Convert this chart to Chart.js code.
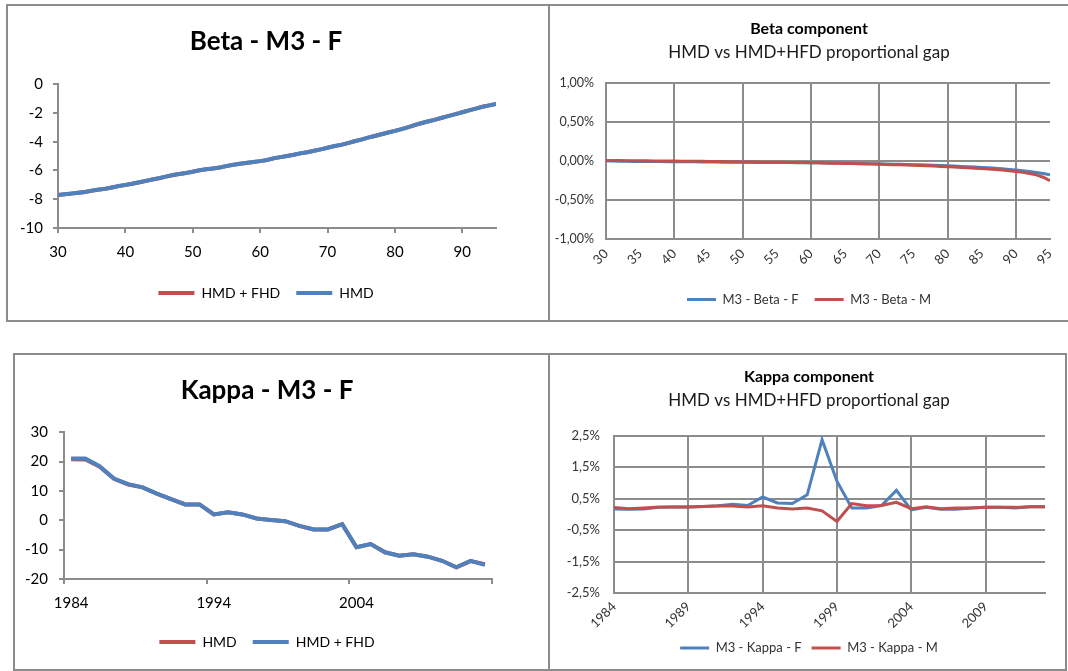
<!DOCTYPE html>
<html>
<head>
<meta charset="utf-8">
<script src="https://cdn.jsdelivr.net/npm/chart.js@4.4.0/dist/chart.umd.min.js"></script>
<style>
  body { margin: 0; background: #fff; width: 1068px; height: 671px; overflow: hidden; position: relative; }
  .panel { position: absolute; box-sizing: border-box; border: 2px solid #8c8c8c; background: #fff; }
  .panel canvas { display: block; }
  #p1 { left: 6px; top: 4px; width: 544px; height: 318px; }
  #p2 { left: 548px; top: 4px; width: 522px; height: 318px; }
  #p3 { left: 13px; top: 353px; width: 537px; height: 318px; }
  #p4 { left: 548px; top: 353px; width: 519px; height: 318px; }
</style>
</head>
<body>
<div class="panel" id="p1"><canvas id="c1" width="540" height="314"></canvas></div>
<div class="panel" id="p2"><canvas id="c2" width="518" height="314"></canvas></div>
<div class="panel" id="p3"><canvas id="c3" width="533" height="314"></canvas></div>
<div class="panel" id="p4"><canvas id="c4" width="515" height="314"></canvas></div>
<script>
// ages 30..95
const betaAges = [30,31,32,33,34,35,36,37,38,39,40,41,42,43,44,45,46,47,48,49,
  50,51,52,53,54,55,56,57,58,59,60,61,62,63,64,65,66,67,68,69,
  70,71,72,73,74,75,76,77,78,79,80,81,82,83,84,85,86,87,88,89,
  90,91,92,93,94,95];

// Beta - M3 - F
const betaHmd = [-7.70,-7.65,-7.60,-7.55,-7.50,-7.40,-7.33,-7.28,-7.18,-7.08,
  -7.00,-6.92,-6.82,-6.72,-6.63,-6.53,-6.43,-6.32,-6.24,-6.18,
  -6.08,-5.98,-5.92,-5.86,-5.79,-5.69,-5.60,-5.53,-5.47,-5.41,
  -5.35,-5.27,-5.15,-5.07,-4.99,-4.90,-4.80,-4.73,-4.63,-4.53,
  -4.42,-4.30,-4.22,-4.10,-3.97,-3.85,-3.72,-3.60,-3.48,-3.36,
  -3.25,-3.12,-2.98,-2.83,-2.70,-2.58,-2.46,-2.33,-2.20,-2.08,
  -1.95,-1.82,-1.70,-1.57,-1.47,-1.38];
const betaHmdFhd = [-7.71,-7.66,-7.61,-7.55,-7.49,-7.41,-7.34,-7.27,-7.18,-7.09,
  -7.01,-6.92,-6.83,-6.73,-6.63,-6.54,-6.43,-6.33,-6.25,-6.18,
  -6.09,-5.99,-5.92,-5.86,-5.80,-5.70,-5.61,-5.53,-5.48,-5.41,
  -5.35,-5.28,-5.16,-5.07,-4.99,-4.90,-4.81,-4.73,-4.63,-4.53,
  -4.42,-4.31,-4.22,-4.10,-3.97,-3.85,-3.72,-3.60,-3.48,-3.36,
  -3.25,-3.12,-2.98,-2.84,-2.70,-2.58,-2.46,-2.33,-2.20,-2.08,
  -1.95,-1.82,-1.70,-1.57,-1.47,-1.38];

// Beta component gap, in %
const betaGapF = [0.000,-0.003,-0.005,-0.007,-0.008,-0.008,-0.009,-0.010,-0.010,-0.011,
  -0.012,-0.012,-0.013,-0.013,-0.014,-0.015,-0.016,-0.017,-0.018,-0.019,
  -0.020,-0.020,-0.021,-0.021,-0.022,-0.022,-0.023,-0.023,-0.024,-0.024,
  -0.025,-0.026,-0.027,-0.028,-0.029,-0.030,-0.031,-0.033,-0.035,-0.037,
  -0.039,-0.041,-0.043,-0.045,-0.047,-0.049,-0.052,-0.055,-0.058,-0.061,
  -0.064,-0.068,-0.072,-0.076,-0.080,-0.085,-0.090,-0.096,-0.103,-0.110,
  -0.118,-0.127,-0.137,-0.149,-0.163,-0.180];
const betaGapM = [0.002,0.003,0.003,0.002,0.002,0.001,0.000,-0.001,-0.002,-0.003,
  -0.004,-0.005,-0.006,-0.006,-0.007,-0.008,-0.009,-0.010,-0.012,-0.013,
  -0.014,-0.015,-0.016,-0.017,-0.018,-0.019,-0.020,-0.021,-0.022,-0.023,
  -0.025,-0.026,-0.028,-0.030,-0.032,-0.034,-0.036,-0.038,-0.040,-0.042,
  -0.045,-0.047,-0.050,-0.052,-0.055,-0.058,-0.061,-0.064,-0.068,-0.072,
  -0.076,-0.080,-0.085,-0.090,-0.095,-0.100,-0.106,-0.112,-0.119,-0.127,
  -0.136,-0.148,-0.162,-0.180,-0.210,-0.255];

// years 1984..2013
const kappaYears = ['1984','1985','1986','1987','1988','1989','1990','1991','1992','1993',
  '1994','1995','1996','1997','1998','1999','2000','2001','2002','2003',
  '2004','2005','2006','2007','2008','2009','2010','2011','2012','2013'];

// Kappa - M3 - F
const kappaHmd = [20.8,20.7,18.2,14.1,12.2,11.2,9.1,7.2,5.4,5.4,
  2.0,2.7,2.0,0.6,0.1,-0.3,-1.9,-3.1,-3.1,-1.3,
  -9.2,-8.1,-10.9,-12.1,-11.6,-12.4,-13.8,-16.0,-13.9,-15.0];
const kappaHmdFhd = [21.0,21.0,18.4,14.2,12.3,11.2,9.1,7.2,5.4,5.4,
  2.0,2.7,2.0,0.6,0.1,-0.3,-1.9,-3.1,-3.1,-1.3,
  -9.2,-8.1,-10.9,-12.1,-11.6,-12.4,-13.8,-16.0,-13.8,-15.2];

// Kappa component gap, in %
const kappaGapF = [0.17,0.16,0.17,0.22,0.23,0.23,0.25,0.27,0.32,0.28,
  0.55,0.36,0.34,0.62,2.37,1.05,0.20,0.20,0.28,0.76,
  0.14,0.22,0.16,0.16,0.20,0.22,0.22,0.20,0.24,0.24];
const kappaGapM = [0.22,0.18,0.20,0.23,0.23,0.23,0.25,0.26,0.26,0.23,
  0.27,0.20,0.17,0.20,0.11,-0.23,0.34,0.27,0.28,0.38,
  0.18,0.24,0.18,0.20,0.20,0.22,0.22,0.22,0.24,0.24];

const BLUE = '#4F81BD';
const RED = '#C0504D';
const AXIS = '#8c8c8c';

Chart.defaults.font.family = 'Lato, "Open Sans", sans-serif';

function series(label, data, color, width, order) {
  return {
    label: label, data: data,
    borderColor: color, backgroundColor: color,
    borderWidth: width, pointRadius: 0, tension: 0,
    order: order
  };
}

// legend with short thick lines, kept in dataset order
function legendOpts(size, lineW, pad, color) {
  return {
    position: 'bottom',
    labels: {
      usePointStyle: true, pointStyle: 'line', pointStyleWidth: lineW,
      font: { size: size }, color: color, padding: pad,
      sort: (a, b) => a.datasetIndex - b.datasetIndex
    }
  };
}

// empty axis on the right, only to reserve room so titles center like Excel
function spacer(w) {
  return {
    position: 'right', afterFit: s => { s.width = w; },
    ticks: { display: false }, grid: { display: false }, border: { display: false }
  };
}

const pct = d => v => v.toFixed(d).replace('.', ',') + '%';

// --- Beta - M3 - F
new Chart(document.getElementById('c1'), {
  type: 'line',
  data: {
    labels: betaAges,
    datasets: [
      series('HMD + FHD', betaHmdFhd, RED, 4, 1),
      series('HMD', betaHmd, BLUE, 4, 0)
    ]
  },
  options: {
    responsive: false, animation: false, events: [],
    layout: { padding: { left: 0, right: 24, top: 0, bottom: 10 } },
    plugins: {
      title: { display: true, text: 'Beta - M3 - F', color: '#000',
        font: { size: 26, weight: 'bold' }, padding: { top: 20, bottom: 27 } },
      legend: legendOpts(14, 36, 16, '#000')
    },
    scales: {
      x: {
        type: 'linear', min: 30, max: 95,
        afterBuildTicks: s => { s.ticks = s.ticks.filter(t => t.value % 10 === 0); },
        afterFit: s => { s.height = 42; },
        ticks: { stepSize: 10, padding: 10, maxRotation: 0, color: '#000', font: { size: 15 } },
        grid: { drawOnChartArea: false, color: AXIS, lineWidth: 2, tickLength: 5 },
        border: { color: AXIS, width: 2 }
      },
      y: {
        min: -10, max: 0,
        afterFit: s => { s.width = 50; },
        ticks: { stepSize: 2, padding: 10, color: '#000', font: { size: 15 } },
        grid: { drawOnChartArea: false, color: AXIS, lineWidth: 2, tickLength: 5 },
        border: { color: AXIS, width: 2 }
      },
      pad: spacer(28)
    }
  }
});

// --- Beta component
new Chart(document.getElementById('c2'), {
  type: 'line',
  data: {
    labels: betaAges,
    datasets: [
      series('M3 - Beta - F', betaGapF, BLUE, 3, 1),
      series('M3 - Beta - M', betaGapM, RED, 3, 0)
    ]
  },
  options: {
    responsive: false, animation: false, events: [],
    layout: { padding: { left: 0, right: 0, top: 0, bottom: 4 } },
    plugins: {
      title: { display: true, text: 'Beta component', color: '#000',
        font: { size: 16, weight: 'bold' }, padding: { top: 13, bottom: 4 } },
      subtitle: { display: true, text: 'HMD vs HMD+HFD proportional gap', color: '#1a1a1a',
        font: { size: 17 }, padding: { top: 0, bottom: 20 } },
      legend: legendOpts(13, 29, 16, '#333')
    },
    scales: {
      x: {
        type: 'linear', min: 30, max: 95,
        afterFit: s => { s.height = 38; },
        ticks: { stepSize: 5, padding: 7, minRotation: 45, maxRotation: 45, color: '#333', font: { size: 13 } },
        grid: { color: c => (c.tick && c.tick.value % 10 === 0) ? AXIS : 'rgba(0,0,0,0)', lineWidth: 2, drawTicks: false },
        border: { color: AXIS, width: 2 }
      },
      y: {
        min: -1, max: 1,
        afterFit: s => { s.width = 56; },
        ticks: { stepSize: 0.5, padding: 12, color: '#333', font: { size: 12.5 }, callback: pct(2) },
        grid: { color: AXIS, lineWidth: 2, drawTicks: false },
        border: { color: AXIS, width: 2 }
      },
      pad: spacer(18)
    }
  }
});

// --- Kappa - M3 - F
new Chart(document.getElementById('c3'), {
  type: 'line',
  data: {
    labels: kappaYears,
    datasets: [
      series('HMD', kappaHmd, RED, 4, 1),
      series('HMD + FHD', kappaHmdFhd, BLUE, 4, 0)
    ]
  },
  options: {
    responsive: false, animation: false, events: [],
    layout: { padding: { left: 0, right: 29, top: 0, bottom: 10 } },
    plugins: {
      title: { display: true, text: 'Kappa - M3 - F', color: '#000',
        font: { size: 26, weight: 'bold' }, padding: { top: 20, bottom: 26 } },
      legend: legendOpts(14, 36, 16, '#000')
    },
    scales: {
      x: {
        offset: true,
        afterFit: s => { s.height = 40; },
        ticks: { autoSkip: false, maxRotation: 0, padding: 10, color: '#000', font: { size: 15 },
          callback: (v, i) => i % 10 === 0 ? kappaYears[i] : '' },
        grid: { offset: true, drawOnChartArea: false, lineWidth: 2, tickLength: 5,
          color: c => (c.index === undefined || c.index % 10 === 0) ? AXIS : 'rgba(0,0,0,0)' },
        border: { color: AXIS, width: 2 }
      },
      y: {
        min: -20, max: 30,
        afterFit: s => { s.width = 49; },
        ticks: { stepSize: 10, padding: 11, color: '#000', font: { size: 15 } },
        grid: { drawOnChartArea: false, color: AXIS, lineWidth: 2, tickLength: 5 },
        border: { color: AXIS, width: 2 }
      },
      pad: spacer(27)
    }
  }
});

// --- Kappa component
new Chart(document.getElementById('c4'), {
  type: 'line',
  data: {
    labels: kappaYears,
    datasets: [
      series('M3 - Kappa - F', kappaGapF, BLUE, 3, 1),
      series('M3 - Kappa - M', kappaGapM, RED, 3, 0)
    ]
  },
  options: {
    responsive: false, animation: false, events: [],
    layout: { padding: { left: 3, right: 0, top: 0, bottom: 4.5 } },
    plugins: {
      title: { display: true, text: 'Kappa component', color: '#000',
        font: { size: 16, weight: 'bold' }, padding: { top: 12, bottom: 4 } },
      subtitle: { display: true, text: 'HMD vs HMD+HFD proportional gap', color: '#1a1a1a',
        font: { size: 17 }, padding: { top: 0, bottom: 25 } },
      legend: legendOpts(13, 29, 10, '#333')
    },
    scales: {
      x: {
        afterFit: s => { s.height = 38.5; },
        ticks: { autoSkip: false, minRotation: 45, maxRotation: 45, padding: 6, color: '#333', font: { size: 13 },
          callback: (v, i) => i % 5 === 0 ? kappaYears[i] : '' },
        grid: { lineWidth: 2, drawTicks: false,
          color: c => (c.index !== undefined && c.index % 5 === 0) ? AXIS : 'rgba(0,0,0,0)' },
        border: { color: AXIS, width: 2 }
      },
      y: {
        min: -2.5, max: 2.5,
        afterFit: s => { s.width = 61; },
        ticks: { stepSize: 1, padding: 14, color: '#333', font: { size: 13 }, callback: pct(1) },
        grid: { color: AXIS, lineWidth: 2, drawTicks: false },
        border: { color: AXIS, width: 2 }
      },
      pad: spacer(20)
    }
  }
});
</script>
</body>
</html>
